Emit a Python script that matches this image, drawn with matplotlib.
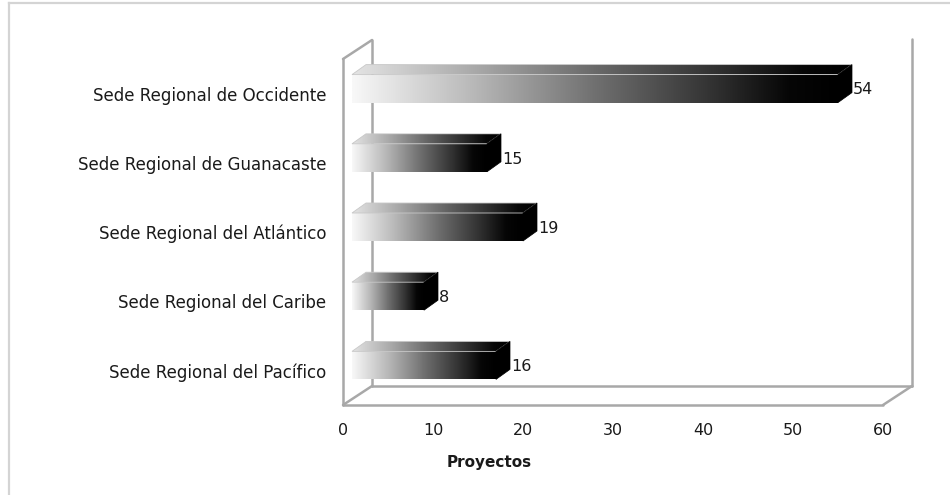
#!/usr/bin/env python
# coding: utf-8

"""
Proyectos por Sede Regional - barras horizontales con efecto 3D
"""

import numpy as np
import matplotlib
matplotlib.use('Agg')
import matplotlib.pyplot as plt
from matplotlib.patches import Polygon
from matplotlib.colors import LinearSegmentedColormap
from matplotlib.lines import Line2D

plt.rcParams['font.family'] = ['DejaVu Sans']

# Datos (de abajo hacia arriba)
sedes = ['Sede Regional del Pacífico',
         'Sede Regional del Caribe',
         'Sede Regional del Atlántico',
         'Sede Regional de Guanacaste',
         'Sede Regional de Occidente']
proyectos = [16, 8, 19, 15, 54]
x_ticks = [0, 10, 20, 30, 40, 50, 60]
x_label = 'Proyectos'

W, H = 950, 495
fig = plt.figure(figsize=(W / 100, H / 100), dpi=100)
fig.patch.set_facecolor('white')

# plano frontal del grafico (en pixeles de la imagen)
left_px, right_px, bottom_px, top_px = 343, 883, 405, 59
ax = fig.add_axes([left_px / W, 1 - bottom_px / H,
                   (right_px - left_px) / W, (bottom_px - top_px) / H])
ax.set_xlim(0, 60)
ax.set_ylim(-0.5, 4.5)

# conversion pixel -> unidades de datos
px_x = 60 / (right_px - left_px)
px_y = 5.0 / (bottom_px - top_px)

# profundidad de las paredes y de las barras
wx, wy = 29 * px_x, 19 * px_y
bx0, by0 = 9 * px_x, 5 * px_y
bdx, bdy = 14 * px_x, 10 * px_y
half_h = 14 * px_y

wall_col = '#a8a8a8'
y0, y1 = -0.5, 4.5

# paredes: izquierda, fondo y piso
wall_lines = [
    ([0, 0], [y0, y1]),
    ([0, wx], [y1, y1 + wy]),
    ([wx, wx], [y0 + wy, y1 + wy]),
    ([60 + wx, 60 + wx], [y0 + wy, y1 + wy + 0.01]),
    ([0, 60], [y0, y0]),
    ([wx, 60 + wx], [y0 + wy, y0 + wy]),
    ([0, wx], [y0, y0 + wy]),
    ([60, 60 + wx], [y0, y0 + wy]),
]
for xs, ys in wall_lines:
    ax.add_line(Line2D(xs, ys, color=wall_col, lw=1.8, clip_on=False,
                       solid_capstyle='round', zorder=1))

cmap_front = LinearSegmentedColormap.from_list(
    'frente', [(0, '#f8f8f8'), (0.25, '#b8b8b8'), (0.5, '#707070'),
               (0.75, '#303030'), (0.9, '#060606'), (1, '#000000')])
cmap_top = LinearSegmentedColormap.from_list(
    'arriba', [(0, '#e4e4e4'), (0.25, '#a8a8a8'), (0.5, '#666666'),
               (0.75, '#2c2c2c'), (0.9, '#080808'), (1, '#000000')])
grad = np.linspace(0, 1, 256).reshape(1, -1)

for i, (sede, val) in enumerate(zip(sedes, proyectos)):
    xa = bx0
    xb = val + bx0
    yc = i + by0
    ylo, yhi = yc - half_h, yc + half_h

    # cara frontal
    ax.imshow(grad, cmap=cmap_front, aspect='auto', extent=(xa, xb, ylo, yhi),
              zorder=3, clip_on=False, interpolation='bilinear')

    # cara superior con degradado recortado
    top_pts = [(xa, yhi), (xa + bdx, yhi + bdy), (xb + bdx, yhi + bdy), (xb, yhi)]
    top_poly = Polygon(top_pts, closed=True, facecolor='none', edgecolor='none',
                       transform=ax.transData)
    im = ax.imshow(grad, cmap=cmap_top, aspect='auto',
                   extent=(xa, xb + bdx, yhi, yhi + bdy),
                   zorder=3, interpolation='bilinear')
    im.set_clip_path(top_poly)
    ax.add_patch(Polygon(top_pts, closed=True, facecolor='none', edgecolor='#c8c8c8',
                         lw=0.6, zorder=4, clip_on=False))

    # cara derecha
    side = Polygon([(xb, ylo), (xb, yhi), (xb + bdx, yhi + bdy), (xb + bdx, ylo + bdy)],
                   closed=True, facecolor='#000000', edgecolor='#000000', lw=0.5,
                   zorder=4, clip_on=False)
    ax.add_patch(side)

    # etiqueta de valor
    ax.text(xb + bdx + 0.1, yc - 0.02, str(val), ha='left', va='center',
            fontsize=11.5, color='#1a1a1a', zorder=5, clip_on=False)

ax.set_yticks(range(len(sedes)))
ax.set_yticklabels(sedes, fontsize=12, color='#1a1a1a')
ax.set_xticks(x_ticks)
ax.set_xticklabels([str(t) for t in x_ticks], fontsize=11.5, color='#1a1a1a')
ax.tick_params(axis='both', length=0)
ax.tick_params(axis='x', pad=13)
ax.tick_params(axis='y', pad=12)
for sp in ax.spines.values():
    sp.set_visible(False)
ax.patch.set_alpha(0)

ax.text((489 - left_px) / (right_px - left_px), -(463 - bottom_px) / (bottom_px - top_px),
        x_label, transform=ax.transAxes, ha='center', va='center',
        fontsize=11, fontweight='bold', color='#1a1a1a')

# marco exterior
fig.add_artist(Line2D([9 / W, 9 / W], [0, 1 - 3 / H], transform=fig.transFigure,
                      color='#d4d4d4', lw=1.6))
fig.add_artist(Line2D([9 / W, 1], [1 - 3 / H, 1 - 3 / H], transform=fig.transFigure,
                      color='#d4d4d4', lw=1.6))

fig.savefig('out.png', dpi=100, facecolor='white')
print("Saved out.png")
